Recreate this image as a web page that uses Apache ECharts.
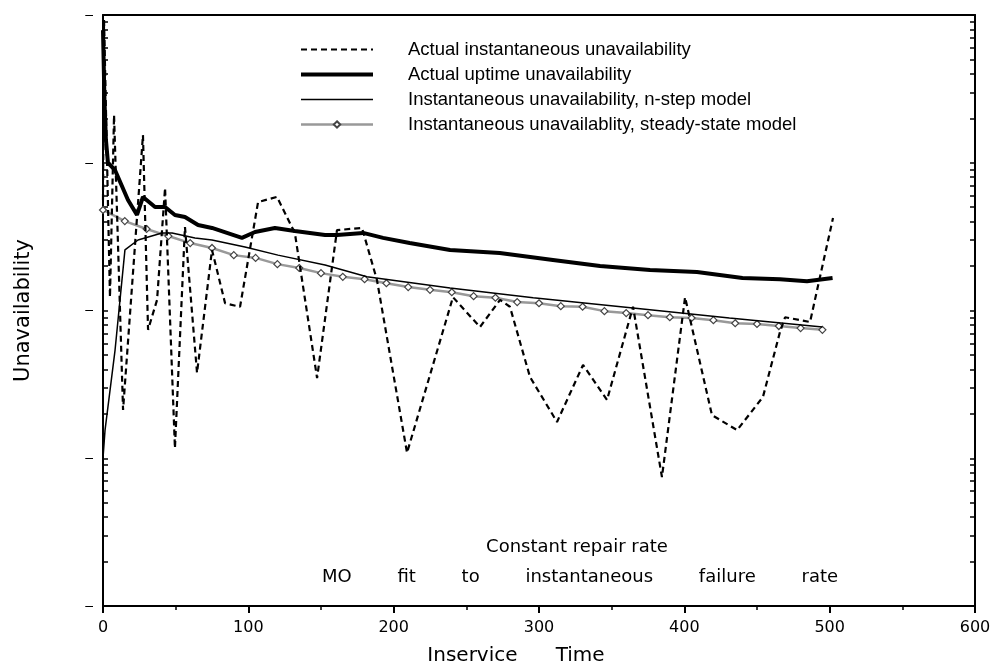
<!DOCTYPE html>
<html>
<head>
<meta charset="utf-8">
<script src="https://cdn.jsdelivr.net/npm/echarts@6/dist/echarts.min.js"></script>
<style>
  html, body { margin: 0; padding: 0; background: #fff; }
  #main { width: 998px; height: 671px; }
</style>
</head>
<body>
<div id="main"></div>
<script>
// x ticks
const xTicks = [0, 100, 200, 300, 400, 500, 600];
// log decades shown on y (unlabelled in the original)
const yDecades = [1e-5, 1e-4, 1e-3, 1e-2, 1e-1];
const yMinorMult = [2, 3, 4, 5, 6, 7, 8, 9];

// Actual instantaneous unavailability (dashed)
const instX = [0, 0.7, 4.8, 7.6, 13.8, 27.5, 31, 37.2, 42.7, 49.5, 56.4, 64.7, 75, 84, 94.3,
  106.7, 119.7, 132, 147.3, 161, 178.2, 188.5, 209.2, 240.8, 259.4, 273.2, 280, 293.8, 312.4,
  330.3, 346.8, 364.7, 384.6, 400.5, 419, 436.3, 454.1, 465.8, 469.3, 486.5, 502.3];
const instY = [5.6e-3, 9.25e-2, 1.23e-3, 2.10e-2, 2.12e-4, 1.54e-2, 7.4e-4, 1.18e-3, 6.75e-3, 1.17e-4,
  3.67e-3, 3.78e-4, 2.57e-3, 1.12e-3, 1.06e-3, 5.42e-3, 5.87e-3, 3.35e-3, 3.49e-4, 3.50e-3,
  3.62e-3, 1.61e-3, 1.09e-4, 1.23e-3, 7.73e-4, 1.18e-3, 1.06e-3, 3.55e-4, 1.76e-4, 4.28e-4,
  2.48e-4, 1.06e-3, 7.46e-5, 1.23e-3, 1.96e-4, 1.55e-4, 2.60e-4, 7.15e-4, 9.0e-4, 8.36e-4, 4.23e-3];

// Actual uptime unavailability (thick)
const uptimeX = [0, 1, 2, 3.4, 8.3, 17.2, 23.4, 27.5, 35.8, 42.7, 49.5, 56.4, 65.4, 75, 95.6,
  104.6, 118.3, 132, 152.8, 161, 179, 192.7, 211, 238.8, 273, 309.6, 342, 376.4, 408.7, 440,
  465.8, 484.4, 502];
const uptimeY = [7.9e-2, 2.66e-2, 1.43e-2, 1.0e-2, 8.9e-3, 5.6e-3, 4.43e-3, 5.87e-3, 5.02e-3, 5.02e-3,
  4.43e-3, 4.29e-3, 3.79e-3, 3.62e-3, 3.10e-3, 3.40e-3, 3.62e-3, 3.45e-3, 3.24e-3, 3.24e-3,
  3.35e-3, 3.10e-3, 2.86e-3, 2.57e-3, 2.45e-3, 2.20e-3, 2.00e-3, 1.88e-3, 1.82e-3, 1.66e-3,
  1.63e-3, 1.58e-3, 1.66e-3];

// Instantaneous unavailability, n-step model (thin)
const nstepX = [0, 1.4, 8.3, 15.1, 24.1, 40.6, 47.5, 63.3, 75, 97.7, 120.4, 152.8, 181.6, 238.8,
  296, 364.7, 431, 495];
const nstepY = [1.0e-4, 1.55e-4, 5.4e-4, 2.57e-3, 3.0e-3, 3.35e-3, 3.35e-3, 3.10e-3, 3.0e-3, 2.69e-3,
  2.37e-3, 2.03e-3, 1.69e-3, 1.42e-3, 1.22e-3, 1.04e-3, 8.9e-4, 7.73e-4];

// Instantaneous unavailability, steady-state model (grey with diamonds)
const steadyX = [0, 15, 30, 45, 60, 75, 90, 105, 120, 135, 150, 165, 180, 195, 210, 225, 240,
  255, 270, 285, 300, 315, 330, 345, 360, 375, 390, 405, 420, 435, 450, 465, 480, 495];
const steadyY = [4.79e-3, 4.03e-3, 3.56e-3, 3.19e-3, 2.86e-3, 2.65e-3, 2.37e-3, 2.27e-3, 2.06e-3, 1.94e-3,
  1.79e-3, 1.69e-3, 1.63e-3, 1.53e-3, 1.44e-3, 1.38e-3, 1.33e-3, 1.25e-3, 1.22e-3, 1.14e-3,
  1.12e-3, 1.07e-3, 1.06e-3, 9.9e-4, 9.6e-4, 9.3e-4, 9.0e-4, 8.9e-4, 8.6e-4, 8.2e-4,
  8.1e-4, 7.85e-4, 7.6e-4, 7.4e-4];

const names = [
  'Actual instantaneous unavailability',
  'Actual uptime unavailability',
  'Instantaneous unavailability, n-step model',
  'Instantaneous unavailablity, steady-state model'
];

// the y axis is logarithmic: plot log10 of the values on a value axis
const lg = v => Math.log10(v);
const pairs = (xs, ys) => xs.map((x, i) => [x, lg(ys[i])]);

const majorLog = yDecades.map(lg);
let allTicks = majorLog.slice();
majorLog.slice(0, -1).forEach(d => yMinorMult.forEach(m => allTicks.push(d + Math.log10(m))));

const yBase = {
  type: 'value',
  min: lg(yDecades[0]),
  max: lg(yDecades[yDecades.length - 1]),
  splitLine: { show: false },
  axisLine: { show: true, onZero: false, lineStyle: { color: '#000', width: 2 } }
};

const chart = echarts.init(document.getElementById('main'));
chart.setOption({
  animation: false,
  backgroundColor: '#fff',
  grid: { left: 103, right: 23, top: 15, bottom: 65 },
  legend: {
    orient: 'vertical',
    left: 294,
    top: 35,
    itemWidth: 72,
    itemHeight: 8,
    itemGap: 6,
    // hide the legend marker on the three plain lines
    data: names.map((n, i) => i < 3 ? { name: n, itemStyle: { opacity: 0 } } : n),
    textStyle: { fontFamily: 'Liberation Sans', fontSize: 18.5, color: '#000', padding: [0, 0, 0, 30] },
    lineStyle: { width: 'inherit' }
  },
  xAxis: [{
    type: 'value',
    min: xTicks[0],
    max: xTicks[xTicks.length - 1],
    interval: 100,
    splitLine: { show: false },
    axisLine: { onZero: false, lineStyle: { color: '#000', width: 2 } },
    axisTick: { length: 7, lineStyle: { color: '#000', width: 2 } },
    minorTick: { show: true, splitNumber: 2, length: 4, lineStyle: { color: '#000', width: 1.5 } },
    axisLabel: { color: '#000', fontFamily: 'DejaVu Sans', fontSize: 16, margin: 14 },
    name: 'Inservice      Time',
    nameLocation: 'middle',
    nameGap: 40,
    nameTextStyle: { color: '#000', fontFamily: 'DejaVu Sans', fontSize: 20, padding: [0, 46, 0, 0] }
  }, {
    type: 'value',
    position: 'top',
    min: xTicks[0],
    max: xTicks[xTicks.length - 1],
    splitLine: { show: false },
    axisLine: { show: true, onZero: false, lineStyle: { color: '#000', width: 2 } },
    axisTick: { show: false },
    axisLabel: { show: false }
  }],
  yAxis: [Object.assign({}, yBase, {
    position: 'left',
    axisTick: { show: true, inside: true, length: 5, customValues: allTicks, lineStyle: { color: '#000', width: 1.5 } },
    axisLabel: { show: true, customValues: majorLog, formatter: () => '–', margin: 10, color: '#000', fontSize: 14 },
    name: 'Unavailability',
    nameLocation: 'middle',
    nameGap: 69,
    nameTextStyle: { color: '#000', fontFamily: 'DejaVu Sans', fontSize: 21 }
  }), Object.assign({}, yBase, {
    position: 'right',
    axisTick: { show: true, inside: true, length: 5, customValues: allTicks, lineStyle: { color: '#000', width: 1.5 } },
    axisLabel: { show: false }
  })],
  series: [{
    name: names[0],
    type: 'line',
    symbol: 'none',
    data: pairs(instX, instY),
    lineStyle: { color: '#000', width: 2.2, type: [6, 4] },
    itemStyle: { color: '#000' },
    z: 4
  }, {
    name: names[1],
    type: 'line',
    symbol: 'none',
    data: pairs(uptimeX, uptimeY),
    lineStyle: { color: '#000', width: 4 },
    itemStyle: { color: '#000' },
    z: 3
  }, {
    name: names[2],
    type: 'line',
    symbol: 'none',
    data: pairs(nstepX, nstepY),
    lineStyle: { color: '#000', width: 1.5 },
    itemStyle: { color: '#000' },
    z: 3
  }, {
    name: names[3],
    type: 'line',
    symbol: 'diamond',
    symbolSize: 7,
    data: pairs(steadyX, steadyY),
    lineStyle: { color: '#999', width: 2.5 },
    itemStyle: { color: '#fff', borderColor: '#444', borderWidth: 1.2 },
    z: 2
  }],
  graphic: [{
    type: 'text',
    x: 577, y: 547,
    style: { text: 'Constant repair rate', fill: '#000', font: '18px "DejaVu Sans"', textAlign: 'center', textVerticalAlign: 'middle' }
  }, {
    type: 'text',
    x: 580, y: 577,
    style: { text: 'MO        fit        to        instantaneous        failure        rate', fill: '#000', font: '18px "DejaVu Sans"', textAlign: 'center', textVerticalAlign: 'middle' }
  }]
});
</script>
</body>
</html>
